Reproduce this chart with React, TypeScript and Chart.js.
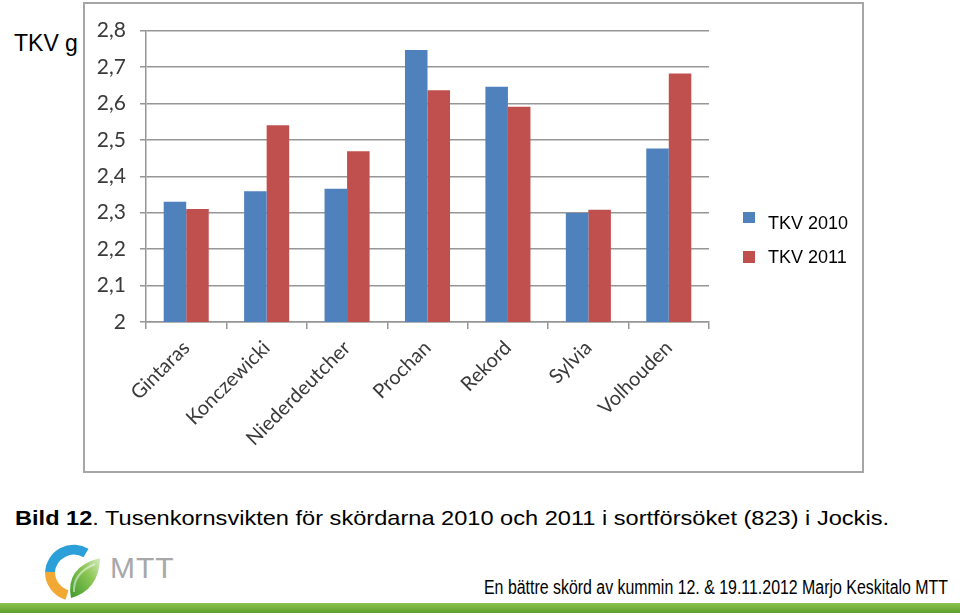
import React, { useEffect, useLayoutEffect, useRef } from 'react';
import { Chart, registerables } from 'chart.js';

Chart.register(...registerables);

// ---- data ----
const categories = ['Gintaras', 'Konczewicki', 'Niederdeutcher', 'Prochan', 'Rekord', 'Sylvia', 'Volhouden'];
const seriesNames = ['TKV 2010', 'TKV 2011'];
const tkv2010 = [2.33, 2.359, 2.366, 2.747, 2.646, 2.299, 2.476];
const tkv2011 = [2.31, 2.54, 2.469, 2.636, 2.591, 2.308, 2.682];
const yTickLabels = ['2', '2,1', '2,2', '2,3', '2,4', '2,5', '2,6', '2,7', '2,8'];
const yMin = 2;
const yMax = 2.8;
const yStep = 0.1;

const BLUE = '#4f81bd';
const RED = '#c0504d';
const AXIS_GRAY = '#969696';
const LABEL_COLOR = '#3a3a3a';

function FitText(props: { left: number; top: number; width: number; style?: React.CSSProperties; children: React.ReactNode }) {
  const ref = useRef<HTMLSpanElement>(null);
  useLayoutEffect(() => {
    const el = ref.current;
    if (!el) return;
    el.style.transform = 'none';
    const w = el.getBoundingClientRect().width;
    if (w > 0) el.style.transform = `scaleX(${props.width / w})`;
  }, []);
  return (
    <span
      ref={ref}
      style={{
        position: 'absolute',
        left: props.left,
        top: props.top,
        whiteSpace: 'nowrap',
        display: 'inline-block',
        transformOrigin: '0 0',
        ...props.style,
      }}
    >
      {props.children}
    </span>
  );
}

function BarChart() {
  const canvasRef = useRef<HTMLCanvasElement>(null);
  useEffect(() => {
    const canvas = canvasRef.current;
    if (!canvas) return;
    const family = 'Lato, "Open Sans", sans-serif';
    const chart = new Chart(canvas, {
      type: 'bar',
      data: {
        labels: categories,
        datasets: [
          { label: seriesNames[0], data: tkv2010, backgroundColor: BLUE, borderWidth: 0, categoryPercentage: 0.56, barPercentage: 1.0 },
          { label: seriesNames[1], data: tkv2011, backgroundColor: RED, borderWidth: 0, categoryPercentage: 0.56, barPercentage: 1.0 },
        ],
      },
      options: {
        animation: false,
        responsive: false,
        maintainAspectRatio: false,
        layout: { padding: { left: 0, top: 23, right: 153, bottom: 0 } },
        plugins: { legend: { display: false }, tooltip: { enabled: false }, title: { display: false } },
        scales: {
          x: {
            offset: true,
            grid: { drawOnChartArea: false, drawTicks: true, tickLength: 7, color: AXIS_GRAY, lineWidth: 1.5, offset: true },
            border: { color: AXIS_GRAY, width: 1.5 },
            ticks: {
              minRotation: 45,
              maxRotation: 45,
              autoSkip: false,
              color: LABEL_COLOR,
              font: { family, size: 20 },
              padding: 7,
            },
            afterFit: (s: any) => {
              s.height = 149;
            },
          },
          y: {
            min: yMin,
            max: yMax,
            grid: { color: AXIS_GRAY, lineWidth: 1.5, drawTicks: true, tickLength: 6 },
            border: { color: AXIS_GRAY, width: 1.5 },
            ticks: {
              stepSize: yStep,
              padding: 14,
              color: LABEL_COLOR,
              font: { family, size: 21 },
              callback: (v: any, i: number) => yTickLabels[i] ?? String(Math.round(Number(v) * 10) / 10).replace('.', ','),
            },
            afterFit: (s: any) => {
              s.width = 61;
            },
          },
        },
      },
    });
    return () => chart.destroy();
  }, []);
  return (
    <canvas
      ref={canvasRef}
      width={777}
      height={467}
      style={{ position: 'absolute', left: 85, top: 4, width: 777, height: 467 }}
    />
  );
}

function Logo() {
  return (
    <svg style={{ position: 'absolute', left: 38, top: 532 }} width={70} height={72} viewBox="0 0 70 72">
      <defs>
        <linearGradient id="leaf" x1="0" y1="1" x2="1" y2="0">
          <stop offset="0" stopColor="#3f9a2c" />
          <stop offset="0.6" stopColor="#8cc655" />
          <stop offset="1" stopColor="#d6ebc0" />
        </linearGradient>
      </defs>
      <path d="M 48 21 A 24 24 0 0 0 12 40" fill="none" stroke="#2a9fd8" strokeWidth={10} strokeLinecap="butt" />
      <path d="M 12 40 A 24 24 0 0 0 29 63" fill="none" stroke="#f2a934" strokeWidth={10} strokeLinecap="butt" />
      <path d="M 33 66 Q 27 35 62 26 Q 61 58 33 66 Z" fill="url(#leaf)" />
      <path d="M 36 60 Q 35 41 57 32" fill="none" stroke="#ffffff" strokeOpacity={0.5} strokeWidth={2} />
    </svg>
  );
}

export default function App() {
  return (
    <div
      style={{
        position: 'absolute',
        left: 0,
        top: 0,
        width: 960,
        height: 615,
        background: '#ffffff',
        overflow: 'hidden',
        fontFamily: '"Liberation Sans", Arial, sans-serif',
      }}
    >
      <div style={{ position: 'absolute', left: 14, top: 32, fontSize: 23, lineHeight: '23px', color: '#000' }}>TKV g</div>

      <div
        style={{
          position: 'absolute',
          left: 83,
          top: 2,
          width: 781,
          height: 471,
          border: '2px solid #a6a6a6',
          boxSizing: 'border-box',
        }}
      />
      <BarChart />

      {/* legend */}
      <div style={{ position: 'absolute', left: 743, top: 212, width: 12, height: 11, background: BLUE }} />
      <div style={{ position: 'absolute', left: 768, top: 214, fontSize: 18, lineHeight: '18px', color: '#000' }}>{seriesNames[0]}</div>
      <div style={{ position: 'absolute', left: 743, top: 251, width: 12, height: 12, background: RED }} />
      <div style={{ position: 'absolute', left: 768, top: 248, fontSize: 18, lineHeight: '18px', color: '#000' }}>{seriesNames[1]}</div>

      <FitText left={15} top={507} width={874} style={{ fontSize: 21, lineHeight: '21px', color: '#000' }}>
        <b>Bild 12</b>. Tusenkornsvikten för skördarna 2010 och 2011 i sortförsöket (823) i Jockis.
      </FitText>

      <Logo />
      <div style={{ position: 'absolute', left: 110, top: 553, fontSize: 30, lineHeight: '30px', color: '#a8a8a8', letterSpacing: 1 }}>MTT</div>

      <FitText left={484} top={577} width={464} style={{ fontSize: 20, lineHeight: '20px', color: '#000' }}>
        En bättre skörd av kummin 12. &amp; 19.11.2012 Marjo Keskitalo MTT
      </FitText>

      <div
        style={{
          position: 'absolute',
          left: 0,
          top: 603,
          width: 960,
          height: 10,
          background: 'linear-gradient(#8cc44e, #5e9e2a)',
        }}
      />
    </div>
  );
}
